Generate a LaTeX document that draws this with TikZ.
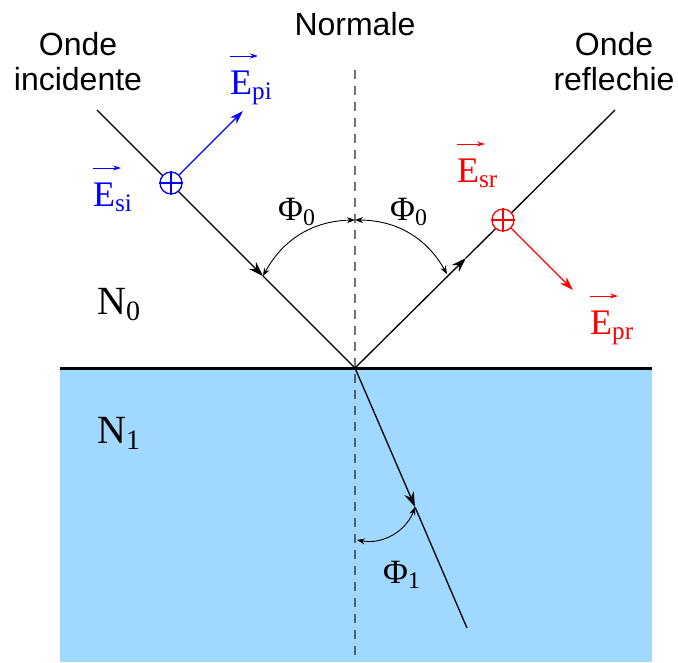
\RequirePackage{fix-cm}
\documentclass[tikz,border=0pt]{standalone}
\usepackage{amsmath}
\usepackage{fontspec}
\setmainfont{Liberation Serif}
\setsansfont{Liberation Sans}
\usepackage{tikz}
\usetikzlibrary{arrows.meta,positioning,calc}
\definecolor{milieu}{RGB}{160,216,255}

\begin{document}
\begin{tikzpicture}[x=1pt,y=-1pt,
  ray/.style={line width=1.3pt},
  raytip/.style={-{Stealth[length=15pt,width=10pt]}},
  anglearc/.style={line width=0.9pt,{Stealth[length=8pt,width=6pt]}-{Stealth[length=8pt,width=6pt]}},
  champ/.style={line width=1.3pt,-{Stealth[length=14pt,width=9pt]}},
  vecfl/.style={line width=1pt,-{Stealth[length=8pt,width=5pt]}},
  crossing/.style={circle,fill=white,line width=1.3pt,minimum size=22pt,inner sep=0pt},
  lbl/.style={font=\sffamily\fontsize{32}{35}\selectfont,align=center,inner sep=0pt,anchor=base},
  sym/.style={font=\fontsize{34}{40}\selectfont,inner sep=0pt,anchor=base west},
  vsym/.style={sym,font=\fontsize{36}{42}\selectfont}]
  \useasboundingbox (0,0) rectangle (678,662);

  % milieu 1 et dioptre
  \fill[milieu] (60,368) rectangle (652,662);
  \coordinate (O) at (355,368);
  \draw[line width=3pt] (60,368) -- (652,368);
  \draw[line width=1.5pt,black,opacity=0.55,dash pattern=on 9pt off 7pt] (355,70) -- (355,662);

  % rayons
  \coordinate (inc) at (97,110);
  \coordinate (refl) at (615,110);
  \coordinate (refr) at (467,628);
  \coordinate (tipi) at (263,276);
  \coordinate (tipr) at (466,258);
  \coordinate (tipt) at (415,507);
  \draw[ray,raytip] (inc) -- (tipi);
  \draw[ray] (tipi) -- (O);
  \draw[ray,raytip] (O) -- (tipr);
  \draw[ray] (tipr) -- (refl);
  \draw[ray,raytip] (O) -- (tipt);
  \draw[ray] (tipt) -- (refr);

  % angles
  \coordinate (nh) at (355,220);
  \coordinate (nb) at (357,540);
  \coordinate (ar) at (447,274);
  \draw[anglearc] (tipi) to[bend left=30] (nh);
  \draw[anglearc] (nh) to[bend left=30] (ar);
  \draw[anglearc] (nb) to[bend right=40] (tipt);

  % champs incident et reflechi
  \node[crossing,draw=blue] (si) at (171,183) {};
  \draw[blue,line width=1.3pt] (si.north) -- (si.south) (si.west) -- (si.east);
  \coordinate (pi) at (243,111);
  \draw[champ,blue] (si) -- (pi);
  \node[crossing,draw=red] (sr) at (503,220) {};
  \draw[red,line width=1.3pt] (sr.north) -- (sr.south) (sr.west) -- (sr.east);
  \coordinate (pr) at (573,290);
  \draw[champ,red] (sr) -- (pr);

  % textes
  \node[lbl] (normale) at (355,35) {Normale};
  \node[lbl] (incid) at (78,90) {Onde\\incidente};
  \node[lbl] (reflch) at (614,90) {Onde\\reflechie};
  \node[vsym,blue] (Epi) at (230,94) {E$_{\text{pi}}$};
  \node[vsym,blue] (Esi) at (93,206) {E$_{\text{si}}$};
  \node[vsym,red] (Esr) at (457,182) {E$_{\text{sr}}$};
  \node[vsym,red] (Epr) at (590,334) {E$_{\text{pr}}$};
  \foreach \e/\c in {Epi/blue,Esi/blue,Esr/red,Epr/red}
    \draw[vecfl,\c] ([yshift=38pt]\e.base west) -- +(28,0);
  \node[sym] (phig) at (278,220) {$\text{Φ}_{\text{0}}$};
  \node[sym] (phid) at (390,220) {$\text{Φ}_{\text{0}}$};
  \node[sym] (phit) at (383,583) {$\text{Φ}_{\text{1}}$};
  \node[sym,font=\fontsize{40}{48}\selectfont] (N0) at (97,314) {N$_{\text{0}}$};
  \node[sym,font=\fontsize{40}{48}\selectfont] (N1) at (97,443) {N$_{\text{1}}$};
\end{tikzpicture}
\end{document}
